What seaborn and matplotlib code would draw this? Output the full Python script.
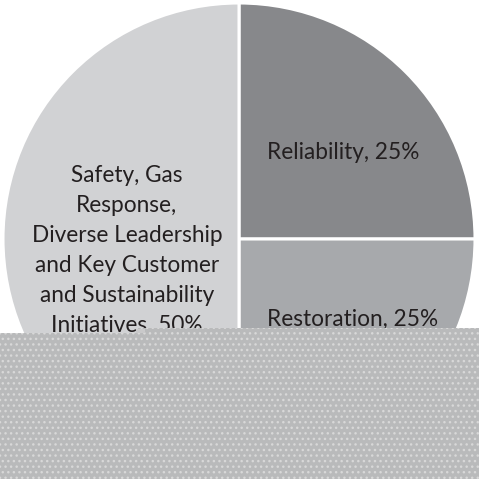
import matplotlib
matplotlib.use('Agg')
import matplotlib.pyplot as plt
import seaborn as sns
from matplotlib.patches import Rectangle

categories = ['Reliability', 'Restoration',
              'Safety, Gas\nResponse,\nDiverse Leadership\nand Key Customer\nand Sustainability\nInitiatives']
shares = [25, 25, 50]
colors = ['#87888b', '#a7a9ac', '#d1d2d4']

sns.set_theme(style='white')
plt.rcParams['font.family'] = ['Lato', 'DejaVu Sans']

W = 479
fig = plt.figure(figsize=(W / 100, W / 100), dpi=100)
ax = fig.add_axes([0, 0, 1, 1])

wedges, _ = ax.pie(shares, colors=colors, startangle=90, counterclock=False,
                   wedgeprops=dict(edgecolor='white', linewidth=2.2))

# label spots inside each wedge (pie units, radius = 1)
label_pos = [(0.44, 0.365), (0.483, -0.34), (-0.475, -0.047)]
for name, val, (x, y) in zip(categories, shares, label_pos):
    ax.text(x, y, f'{name}, {val}%', ha='center', va='center',
            fontsize=16.3, color='#231f20', linespacing=1.53)

r_px = 236
ax.set_xlim(-239 / r_px, 240 / r_px)
ax.set_ylim(-240 / r_px, 239 / r_px)
ax.set_aspect('auto')
ax.axis('off')

# grey dotted block covering the lower part of the image (px from top-left)
blocks = [(0, 333, 138, W), (138, 328, W, W)]
for x0, y0, x1, y1 in blocks:
    fig.patches.append(Rectangle((x0 / W, 1 - y1 / W), (x1 - x0) / W, (y1 - y0) / W,
                                 transform=fig.transFigure, facecolor='#b9babb',
                                 edgecolor='#d8d8d8', linewidth=0, hatch='...',
                                 zorder=10))
fig.patches.append(Rectangle((136 / W, 1 - 333 / W), 9 / W, 4 / W,
                             transform=fig.transFigure, facecolor='#c9c9ca',
                             linewidth=0, zorder=11))

fig.savefig('out.png', dpi=100, facecolor='white')
